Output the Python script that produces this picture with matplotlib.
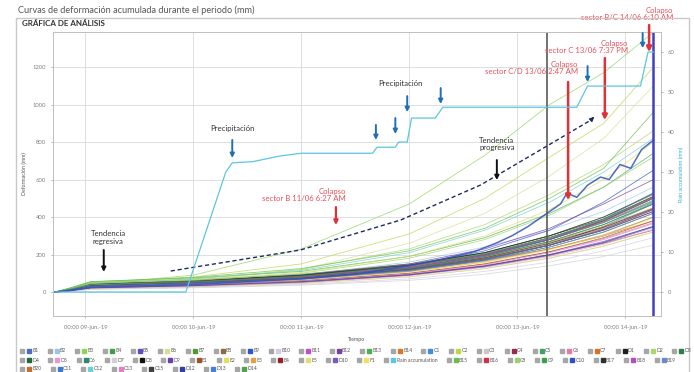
import matplotlib
matplotlib.use("Agg")
import matplotlib.pyplot as plt
from matplotlib.patches import Rectangle
from matplotlib.lines import Line2D
from matplotlib.legend_handler import HandlerTuple

plt.rcParams['font.family'] = ['Lato', 'DejaVu Sans']

# ---------------- data ----------------
days = [8.72, 8.85, 9.05, 10.0, 11.0, 12.0, 12.7, 13.3, 13.8, 14.26]

names_row1 = ["B1", "B2", "B3", "B4", "B5", "B6", "B7", "B8", "B9", "B10", "B11", "B12",
              "B13", "B14", "C1", "C2", "C3", "C4", "C5", "C6", "C7", "D1", "D2", "D3"]
names_row2 = ["D4", "D5", "D6", "D7", "D8", "D9", "E1", "E2", "E3", "E4", "E5", "D10",
              "F1", "Rain accumulation", "B15", "B16", "C8", "C9", "C10", "B17", "B18", "B19"]
names_row3 = ["B20", "C11", "C12", "C13", "C15", "D12", "D13", "D14"]

deformation = {
    "B1":  [0, 12, 35, 50, 75, 120, 170, 230, 300, 400],
    "B2":  [0, 8, 30, 55, 90, 160, 240, 330, 430, 560],
    "B3":  [0, 10, 40, 90, 230, 470, 730, 1000, 1170, 1385],
    "B4":  [0, 15, 45, 60, 85, 140, 200, 280, 370, 480],
    "B5":  [0, 5, 20, 30, 50, 90, 140, 200, 270, 350],
    "B6":  [0, 10, 30, 60, 120, 260, 420, 620, 820, 1100],
    "B7":  [0, 18, 50, 65, 95, 150, 210, 300, 400, 520],
    "B8":  [0, 6, 22, 35, 55, 95, 140, 200, 260, 330],
    "B9":  [0, 12, 38, 55, 80, 140, 220, 330, 480, 650],
    "B10": [0, 4, 15, 25, 40, 70, 110, 160, 220, 290],
    "B11": [0, 9, 28, 45, 70, 120, 180, 250, 330, 430],
    "B12": [0, 14, 42, 58, 90, 150, 230, 340, 470, 600],
    "B13": [0, 20, 55, 75, 110, 190, 290, 420, 560, 740],
    "B14": [0, 11, 32, 48, 72, 115, 165, 230, 300, 380],
    "C1":  [0, 7, 25, 40, 65, 110, 170, 250, 350, 470],
    "C2":  [0, 16, 48, 80, 150, 310, 500, 720, 900, 1200],
    "C3":  [0, 5, 18, 28, 45, 80, 125, 180, 245, 320],
    "C4":  [0, 13, 40, 55, 85, 140, 200, 290, 380, 500],
    "C5":  [0, 10, 35, 52, 78, 130, 195, 280, 375, 490],
    "C6":  [0, 8, 26, 40, 62, 100, 150, 215, 285, 370],
    "C7":  [0, 12, 36, 50, 76, 125, 185, 265, 350, 450],
    "D1":  [0, 15, 44, 60, 90, 145, 210, 300, 390, 510],
    "D2":  [0, 18, 50, 70, 120, 230, 360, 520, 680, 860],
    "D3":  [0, 9, 30, 45, 70, 115, 170, 240, 320, 420],
    "D4":  [0, 11, 33, 50, 78, 128, 190, 270, 360, 470],
    "D5":  [0, 6, 20, 32, 52, 88, 132, 190, 255, 335],
    "D6":  [0, 14, 40, 56, 86, 140, 205, 290, 385, 505],
    "D7":  [0, 4, 14, 22, 36, 62, 95, 140, 190, 250],
    "D8":  [0, 10, 34, 50, 76, 124, 182, 260, 345, 445],
    "D9":  [0, 12, 37, 54, 82, 135, 200, 285, 380, 500],
    "E1":  [0, 7, 24, 38, 60, 100, 150, 215, 290, 380],
    "E2":  [0, 15, 45, 65, 105, 190, 300, 440, 600, 800],
    "E3":  [0, 8, 28, 42, 66, 108, 160, 230, 305, 400],
    "E4":  [0, 10, 31, 46, 72, 118, 175, 250, 335, 440],
    "E5":  [0, 5, 18, 30, 48, 82, 125, 182, 245, 320],
    "D10": [0, 12, 36, 52, 80, 132, 196, 280, 372, 485],
    "F1":  [0, 9, 27, 42, 65, 106, 158, 226, 300, 395],
    "B15": [0, 20, 55, 78, 125, 220, 340, 500, 660, 960],
    "B16": [0, 11, 34, 50, 78, 130, 195, 280, 380, 510],
    "C8":  [0, 13, 38, 60, 100, 180, 280, 410, 560, 720],
    "C9":  [0, 10, 33, 48, 75, 125, 188, 270, 360, 475],
    "B17": [0, 14, 42, 57, 88, 143, 210, 300, 400, 525],
    "B18": [0, 6, 21, 33, 52, 90, 135, 195, 262, 345],
    "B19": [0, 9, 29, 44, 68, 112, 168, 240, 320, 420],
    "B20": [0, 12, 35, 50, 76, 122, 180, 255, 340, 440],
    "C11": [0, 10, 32, 48, 75, 125, 190, 280, 390, 530],
    "C12": [0, 15, 45, 70, 115, 210, 330, 480, 640, 820],
    "C13": [0, 7, 24, 37, 58, 96, 145, 210, 280, 365],
    "C15": [0, 11, 34, 48, 74, 120, 176, 250, 330, 430],
    "D12": [0, 6, 22, 34, 55, 92, 138, 198, 265, 350],
    "D13": [0, 9, 30, 46, 71, 117, 175, 250, 335, 440],
    "D14": [0, 13, 39, 55, 84, 138, 203, 290, 385, 505],
}

# C10 is a noisy sensor, read at more instants
c10_days = [8.72, 8.85, 9.05, 10.0, 11.0, 11.5, 12.0, 12.3, 12.6, 12.8, 12.95, 13.1,
            13.2, 13.3, 13.4, 13.46, 13.55, 13.65, 13.77, 13.85, 13.95, 14.05, 14.15, 14.26]
c10_mm = [0, 8, 26, 40, 70, 95, 140, 175, 215, 260, 300, 350,
          390, 430, 470, 528, 505, 570, 613, 600, 680, 660, 760, 810]

colors = {
    "B1": "#4a6fc0", "B2": "#9ec5e8", "B3": "#8ed45a", "B4": "#3f9e4a", "B5": "#5b4fc9",
    "B6": "#d0e290", "B7": "#4f9b2f", "B8": "#8c6a3c", "B9": "#2f56c8", "B10": "#d8c8e8",
    "B11": "#c04fc0", "B12": "#7a3fa0", "B13": "#4caf50", "B14": "#d4782a", "C1": "#3f8fd8",
    "C2": "#b8d84a", "C3": "#c8c8c8", "C4": "#9a2a4a", "C5": "#3fa060", "C6": "#e07aa8",
    "C7": "#d9702a", "D1": "#202020", "D2": "#a8d86a", "D3": "#2e7d4a", "D4": "#1f6b3a",
    "D5": "#e49ad0", "D6": "#2a8a6a", "D7": "#d0d0d0", "D8": "#101010", "D9": "#6a3fa8",
    "E1": "#a05030", "E2": "#e0e05a", "E3": "#e8a040", "E4": "#902030", "E5": "#e0e070",
    "D10": "#7a5ab8", "F1": "#f0e060", "Rain accumulation": "#5cc6e0", "B15": "#6abf4a",
    "B16": "#d0304a", "C8": "#9ad070", "C9": "#3aa050", "C10": "#3050c0", "B17": "#303030",
    "B18": "#b050c0", "B19": "#6a8ad0", "B20": "#c07030", "C11": "#3a7ad0", "C12": "#70d0d0",
    "C13": "#e080c0", "C15": "#404040", "D12": "#3040a0", "D13": "#4a80d0", "D14": "#50a050",
}

rain_days = [8.72, 9.93, 10.30, 10.36, 10.55, 10.80, 11.00, 11.66, 11.70, 11.87, 11.90,
             11.98, 12.02, 12.24, 12.31, 13.55, 13.65, 14.14, 14.21, 14.26]
rain_mm = [0, 0, 30.0, 32.3, 32.6, 34.0, 34.7, 34.7, 36.2, 36.2, 37.5,
           37.5, 43.5, 43.5, 46.2, 46.2, 51.5, 51.5, 60.0, 60.0]

trend_days = [9.79, 10.99, 11.92, 12.66, 13.21, 13.68]
trend_mm = [112, 224, 384, 571, 757, 917]

collapse_lines = [13.27, 14.26]
day_ticks = [9, 10, 11, 12, 13, 14]
day_labels = ["00:00 09-jun.-19", "00:00 10-jun.-19", "00:00 11-jun.-19",
              "00:00 12-jun.-19", "00:00 13-jun.-19", "00:00 14-jun.-19"]
y_ticks = [0, 200, 400, 600, 800, 1000, 1200]
rain_ticks = [0, 10, 20, 30, 40, 50, 60]

# ---------------- figure ----------------
W, H = 694, 372
fig = plt.figure(figsize=(W / 100, H / 100), dpi=100)
fig.patch.set_facecolor("white")

fig.add_artist(Rectangle((16 / W, -0.02), (689 - 16) / W, 1 - 18 / H + 0.02,
                         transform=fig.transFigure, fill=False, ec="#c8c8c8", lw=1.0))
fig.text(18 / W, 1 - 10 / H, "Curvas de deformación acumulada durante el periodo (mm)",
         fontsize=6.6, color="#555555", va="center", ha="left")
fig.text(22 / W, 1 - 24 / H, "GRÁFICA DE ANÁLISIS", fontsize=5.8, color="#333333",
         fontweight="bold", va="center", ha="left")

ax = fig.add_axes([53 / W, 1 - 316 / H, (661 - 53) / W, (316 - 32) / H])
YMIN, YMAX = -128, 1387
ax.set_xlim(8.70, 14.33)
ax.set_ylim(YMIN, YMAX)
ax.set_xticks(day_ticks)
ax.set_xticklabels(day_labels)
ax.set_yticks(y_ticks)
ax.tick_params(axis="both", labelsize=4.2, colors="#7f7f7f", length=1.5, width=0.4)
ax.tick_params(axis="x", pad=5)
ax.grid(True, color="#d9d9d9", lw=0.6)
ax.set_axisbelow(True)
for s in ax.spines.values():
    s.set_color("#bfbfbf")
    s.set_linewidth(0.7)
ax.set_ylabel("Deformación (mm)", fontsize=3.8, color="#555555", labelpad=4)
ax.set_xlabel("Tiempo", fontsize=3.8, color="#555555", labelpad=5)

for n, vals in deformation.items():
    ax.plot(days, vals, color=colors[n], lw=0.6, alpha=0.75)
ax.plot(c10_days, c10_mm, color=colors["C10"], lw=1.1, alpha=0.85)

ax2 = ax.twinx()
scale = 0.1875 / 4.0
ax2.set_ylim(YMIN * scale, YMAX * scale)
ax2.set_yticks(rain_ticks)
ax2.tick_params(axis="y", labelsize=4.2, colors="#7f7f7f", length=1.5, width=0.4)
for s in ax2.spines.values():
    s.set_visible(False)
ax2.set_ylabel("Rain accumulation (mm)", fontsize=3.8, color="#2fb0d0", labelpad=3)
ax2.plot(rain_days, rain_mm, color=colors["Rain accumulation"], lw=0.9)

ax.axvline(collapse_lines[0], color="#5a5a5a", lw=1.2)
ax.axvline(collapse_lines[1], color="#4040c0", lw=1.8)

ax.plot(trend_days, trend_mm, color="#1f2a60", lw=1.0, ls=(0, (3, 2)))
ax.annotate("", xy=(trend_days[-1] + 0.05, trend_mm[-1] + 28),
            xytext=(trend_days[-1], trend_mm[-1]),
            arrowprops=dict(arrowstyle="-|>", color="#1f2a60", lw=1.0, mutation_scale=6))


def arrow(x, y0, y1, color, lw=1.4, ms=6):
    ax.annotate("", xy=(x, y1), xytext=(x, y0), annotation_clip=False,
                arrowprops=dict(arrowstyle="-|>", color=color, lw=lw, mutation_scale=ms,
                                shrinkA=0, shrinkB=0))


FS = 5.6
blue = "#1f6fb5"
red = "#e0303a"
redtxt = "#e8505a"
for x, y0, y1 in [(10.36, 811, 715), (11.98, 1045, 960), (11.69, 891, 811),
                  (11.87, 928, 843), (12.29, 1088, 1003), (13.65, 1205, 1120),
                  (14.16, 1381, 1301)]:
    arrow(x, y0, y1, blue)
ax.text(10.36, 870, "Precipitación", fontsize=FS, color="#333333", ha="center", va="center")
ax.text(11.92, 1110, "Precipitación", fontsize=FS, color="#333333", ha="center", va="center")

ax.text(9.21, 292, "Tendencia\nregresiva", fontsize=FS, color="#333333", ha="center",
        va="center", linespacing=1.1)
arrow(9.17, 224, 107, "#111111")
ax.text(12.81, 790, "Tendencia\nprogresiva", fontsize=FS, color="#333333", ha="center",
        va="center", linespacing=1.1)
arrow(12.81, 704, 597, "#111111")

ax.text(11.41, 517, "Colapso\nsector B 11/06 6:27 AM", fontsize=FS, color=redtxt,
        ha="right", va="center", linespacing=1.1)
arrow(11.32, 453, 357, red, lw=1.6)
ax.text(13.565, 1195, "Colapso\nsector C/D 13/06 2:47 AM", fontsize=FS, color=redtxt,
        ha="right", va="center", linespacing=1.1)
arrow(13.47, 1120, 490, red, lw=1.8, ms=7)
ax.text(14.03, 1307, "Colapso\nsector C 13/06 7:37 PM", fontsize=FS, color=redtxt,
        ha="right", va="center", linespacing=1.1)
arrow(13.81, 1248, 917, red, lw=1.8, ms=7)
ax.text(14.44, 1483, "Colapso\nsector B/C 14/06 6:10 AM", fontsize=FS, color=redtxt,
        ha="right", va="center", linespacing=1.1, clip_on=False)
arrow(14.22, 1424, 1280, red, lw=1.8, ms=7)


# ---------------- legend rows ----------------
def legend_row(names, ypx):
    handles = []
    for n in names:
        g = Line2D([], [], ls="none", marker="s", ms=2.8, mfc="#a6a6a6", mec="#a6a6a6")
        c = Line2D([], [], ls="none", marker="s", ms=2.8, mfc=colors[n], mec=colors[n])
        handles.append((g, c))
    leg = fig.legend(handles, names, loc="center left", bbox_to_anchor=(20 / W, 1 - ypx / H),
                     ncol=len(names), frameon=False, fontsize=3.6, handlelength=2.2,
                     handletextpad=0.25, columnspacing=1.85, borderpad=0, borderaxespad=0,
                     handler_map={tuple: HandlerTuple(ndivide=None, pad=0.6)})
    for t in leg.get_texts():
        t.set_color("#555555")
    return leg


legend_row(names_row1, 351)
legend_row(names_row2, 360)
legend_row(names_row3, 369)

fig.savefig("out.png", dpi=100)
